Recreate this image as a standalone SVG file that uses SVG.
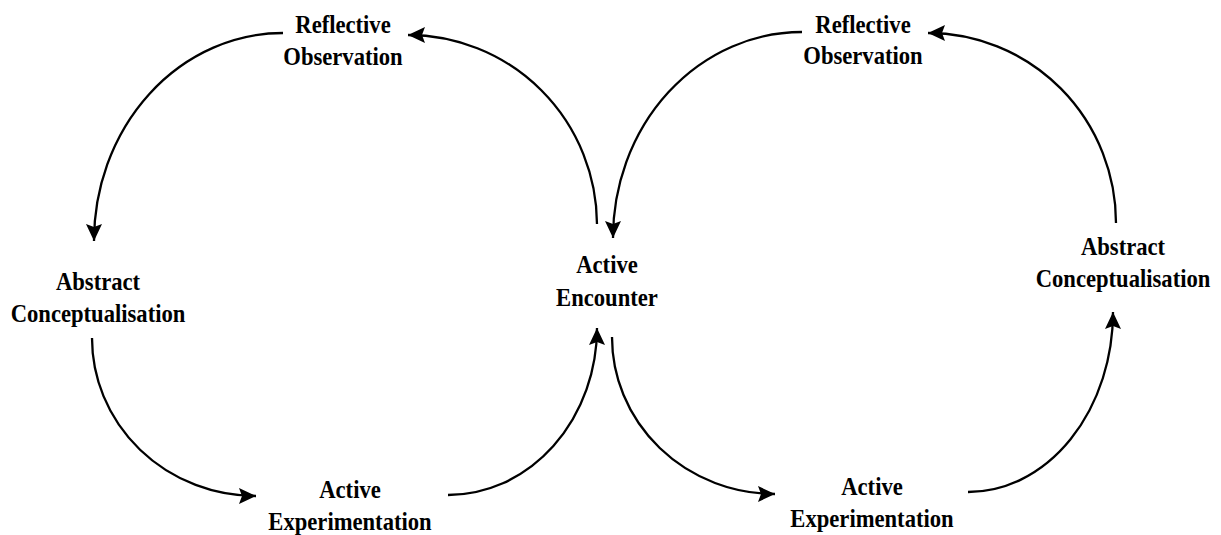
<svg xmlns="http://www.w3.org/2000/svg" width="1221" height="535" viewBox="0 0 1221 535">
<style>
text{font-family:"Liberation Serif","Times New Roman",serif;font-weight:bold;font-size:26px;fill:#000;text-anchor:middle}
.c{fill:none;stroke:#000;stroke-width:2.3}
</style>
<defs>
<marker id="ah" markerUnits="userSpaceOnUse" markerWidth="20" markerHeight="18" refX="17" refY="8" orient="auto" overflow="visible">
<path d="M0,0 L17,8 L0,16 L3,8 Z" fill="#000"/>
</marker>
</defs>
<rect width="1221" height="535" fill="#fff"/>
<g id="connectors">
<path class="c" d="M283,33 A189,208 0 0 0 94,241" marker-end="url(#ah)"/>
<path class="c" d="M597,224 A189,190 0 0 0 408,35" marker-end="url(#ah)"/>
<path class="c" d="M92,338 A164,158 0 0 0 256,496" marker-end="url(#ah)"/>
<path class="c" d="M448,495 A149,167 0 0 0 597,328" marker-end="url(#ah)"/>
<path class="c" d="M802,32 A189,206 0 0 0 613,238" marker-end="url(#ah)"/>
<path class="c" d="M612,337 A163,157 0 0 0 775,494" marker-end="url(#ah)"/>
<path class="c" d="M968,492 A145,180 0 0 0 1113,312" marker-end="url(#ah)"/>
<path class="c" d="M1116,223 A188,190 0 0 0 928,33" marker-end="url(#ah)"/>
</g>
<g id="ro-left" transform="translate(343,0) scale(0.87,1)"><text x="0" y="33">Reflective</text><text x="0" y="65">Observation</text></g>
<g id="ac-left" transform="translate(98,0) scale(0.87,1)"><text x="0" y="290">Abstract</text><text x="0" y="322">Conceptualisation</text></g>
<g id="ae" transform="translate(607,0) scale(0.87,1)"><text x="0" y="273">Active</text><text x="0" y="306">Encounter</text></g>
<g id="ax-left" transform="translate(350,0) scale(0.87,1)"><text x="0" y="498">Active</text><text x="0" y="530">Experimentation</text></g>
<g id="ro-right" transform="translate(863,0) scale(0.87,1)"><text x="0" y="33">Reflective</text><text x="0" y="64">Observation</text></g>
<g id="ac-right" transform="translate(1123,0) scale(0.87,1)"><text x="0" y="255">Abstract</text><text x="0" y="287">Conceptualisation</text></g>
<g id="ax-right" transform="translate(872,0) scale(0.87,1)"><text x="0" y="495">Active</text><text x="0" y="527">Experimentation</text></g>
</svg>
